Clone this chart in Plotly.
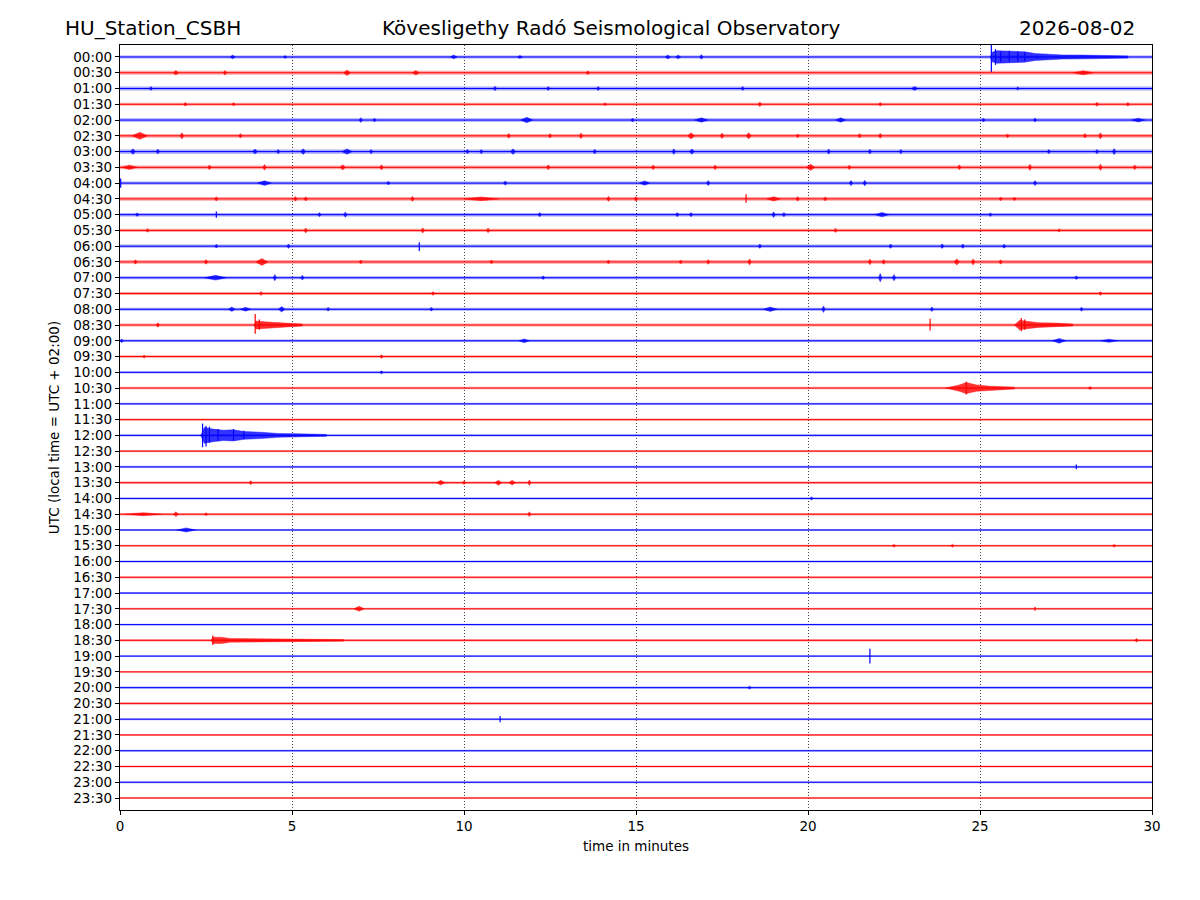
import plotly.graph_objects as go

# helicorder rows, 30 minutes each (UTC)
row_labels = [
    "00:00", "00:30", "01:00", "01:30", "02:00", "02:30", "03:00", "03:30",
    "04:00", "04:30", "05:00", "05:30", "06:00", "06:30", "07:00", "07:30",
    "08:00", "08:30", "09:00", "09:30", "10:00", "10:30", "11:00", "11:30",
    "12:00", "12:30", "13:00", "13:30", "14:00", "14:30", "15:00", "15:30",
    "16:00", "16:30", "17:00", "17:30", "18:00", "18:30", "19:00", "19:30",
    "20:00", "20:30", "21:00", "21:30", "22:00", "22:30", "23:00", "23:30",
]
x_ticks = [0, 5, 10, 15, 20, 25, 30]

# background noise half-width of each row (in row spacings)
row_noise = [
    0.10, 0.12, 0.12, 0.10, 0.11, 0.12, 0.13, 0.12, 0.10, 0.12, 0.11, 0.10,
    0.10, 0.12, 0.10, 0.09, 0.10, 0.09, 0.08, 0.08, 0.07, 0.08, 0.07, 0.07,
    0.07, 0.07, 0.07, 0.08, 0.06, 0.08, 0.07, 0.07, 0.07, 0.07, 0.06, 0.06,
    0.06, 0.08, 0.06, 0.06, 0.07, 0.08, 0.06, 0.06, 0.06, 0.07, 0.06, 0.06,
]

# small blips: (row, start minute, end minute, half amplitude)
blips = [
    (0, 3.2, 3.35, 0.12), (0, 4.75, 4.85, 0.1), (0, 9.6, 9.8, 0.12), (0, 11.55, 11.7, 0.1),
    (0, 15.85, 16.0, 0.13), (0, 16.15, 16.3, 0.12), (0, 16.85, 16.95, 0.15),
    (1, 1.55, 1.7, 0.15), (1, 3.0, 3.1, 0.15), (1, 6.5, 6.7, 0.18), (1, 8.5, 8.7, 0.14),
    (1, 13.55, 13.65, 0.12), (1, 27.7, 28.3, 0.13),
    (2, 0.85, 0.95, 0.12), (2, 10.85, 10.95, 0.14), (2, 12.4, 12.5, 0.12), (2, 13.85, 13.95, 0.12),
    (2, 18.05, 18.15, 0.13), (2, 23.0, 23.2, 0.12), (2, 26.05, 26.15, 0.1),
    (3, 1.85, 1.95, 0.12), (3, 3.25, 3.35, 0.1), (3, 14.05, 14.15, 0.1), (3, 18.55, 18.65, 0.15),
    (3, 22.05, 22.15, 0.12), (3, 28.35, 28.45, 0.13), (3, 29.25, 29.35, 0.12),
    (4, 6.95, 7.05, 0.15), (4, 7.35, 7.45, 0.12), (4, 11.65, 12.0, 0.17), (4, 14.85, 14.95, 0.12),
    (4, 16.7, 17.1, 0.14), (4, 20.8, 21.1, 0.14), (4, 25.05, 25.15, 0.12), (4, 26.55, 26.65, 0.13),
    (4, 29.4, 29.8, 0.12),
    (5, 0.35, 0.8, 0.22), (5, 1.75, 1.85, 0.2), (5, 3.45, 3.55, 0.14), (5, 11.25, 11.35, 0.15),
    (5, 12.45, 12.55, 0.14), (5, 13.35, 13.45, 0.18), (5, 16.5, 16.7, 0.2), (5, 17.45, 17.55, 0.18),
    (5, 18.2, 18.35, 0.2), (5, 19.65, 19.75, 0.12), (5, 21.45, 21.55, 0.14), (5, 22.05, 22.15, 0.16),
    (5, 25.75, 25.85, 0.12), (5, 28.0, 28.1, 0.14), (5, 28.45, 28.55, 0.2),
    (6, 0.3, 0.45, 0.18), (6, 1.05, 1.15, 0.16), (6, 3.85, 4.0, 0.16), (6, 4.55, 4.65, 0.14),
    (6, 5.25, 5.4, 0.18), (6, 6.45, 6.75, 0.17), (6, 7.25, 7.35, 0.14), (6, 10.05, 10.15, 0.14),
    (6, 10.45, 10.55, 0.14), (6, 11.35, 11.5, 0.18), (6, 13.75, 13.85, 0.15), (6, 16.05, 16.15, 0.18),
    (6, 16.55, 16.7, 0.17), (6, 20.55, 20.65, 0.17), (6, 21.75, 21.85, 0.15), (6, 22.65, 22.75, 0.14),
    (6, 26.95, 27.05, 0.13), (6, 28.35, 28.45, 0.14), (6, 28.85, 28.95, 0.2),
    (7, 0.05, 0.5, 0.14), (7, 2.55, 2.65, 0.15), (7, 4.15, 4.25, 0.18), (7, 6.4, 6.55, 0.17),
    (7, 7.55, 7.65, 0.17), (7, 12.4, 12.5, 0.16), (7, 15.45, 15.55, 0.15), (7, 17.25, 17.35, 0.15),
    (7, 19.95, 20.2, 0.2), (7, 21.15, 21.25, 0.14), (7, 24.35, 24.45, 0.16), (7, 26.4, 26.5, 0.2),
    (7, 28.45, 28.55, 0.2), (7, 29.45, 29.55, 0.15),
    (8, 4.0, 4.4, 0.15), (8, 7.75, 7.85, 0.12), (8, 11.15, 11.25, 0.14), (8, 15.1, 15.4, 0.14),
    (8, 17.05, 17.15, 0.16), (8, 21.2, 21.3, 0.17), (8, 21.6, 21.7, 0.18), (8, 26.55, 26.65, 0.16),
    (9, 2.75, 2.85, 0.14), (9, 5.05, 5.15, 0.15), (9, 5.35, 5.45, 0.14), (9, 8.45, 8.55, 0.16),
    (9, 10.0, 11.0, 0.12), (9, 14.15, 14.25, 0.16), (9, 14.95, 15.05, 0.15), (9, 18.8, 19.2, 0.14),
    (9, 19.65, 19.75, 0.15), (9, 20.45, 20.55, 0.13), (9, 25.55, 25.65, 0.12), (9, 25.95, 26.05, 0.12),
    (10, 0.45, 0.55, 0.12), (10, 5.75, 5.85, 0.13), (10, 6.5, 6.6, 0.17), (10, 12.15, 12.25, 0.14),
    (10, 16.15, 16.25, 0.14), (10, 16.55, 16.65, 0.14), (10, 18.95, 19.05, 0.18), (10, 19.25, 19.35, 0.14),
    (10, 21.95, 22.35, 0.14), (10, 25.25, 25.35, 0.12),
    (11, 0.75, 0.85, 0.12), (11, 5.35, 5.45, 0.16), (11, 8.75, 8.85, 0.17), (11, 10.65, 10.75, 0.15),
    (11, 20.75, 20.85, 0.14), (11, 27.25, 27.35, 0.1),
    (12, 2.75, 2.85, 0.12), (12, 4.85, 4.95, 0.14), (12, 18.55, 18.65, 0.14), (12, 22.35, 22.45, 0.14),
    (12, 23.85, 23.95, 0.15), (12, 24.45, 24.55, 0.14), (12, 25.65, 25.75, 0.13),
    (13, 0.4, 0.5, 0.14), (13, 2.45, 2.55, 0.15), (13, 3.95, 4.3, 0.22), (13, 6.95, 7.05, 0.12),
    (13, 10.75, 10.85, 0.12), (13, 14.15, 14.25, 0.12), (13, 16.25, 16.35, 0.12), (13, 17.05, 17.15, 0.15),
    (13, 18.25, 18.35, 0.2), (13, 21.75, 21.85, 0.18), (13, 22.15, 22.25, 0.15), (13, 24.25, 24.4, 0.2),
    (13, 24.75, 24.85, 0.2), (13, 25.55, 25.65, 0.14),
    (14, 2.45, 3.1, 0.15), (14, 4.45, 4.55, 0.2), (14, 5.25, 5.35, 0.15), (14, 12.25, 12.35, 0.12),
    (14, 22.05, 22.15, 0.27), (14, 22.45, 22.55, 0.2), (14, 27.75, 27.85, 0.12),
    (15, 4.05, 4.15, 0.12), (15, 9.05, 9.15, 0.12), (15, 28.45, 28.55, 0.12),
    (16, 3.15, 3.35, 0.14), (16, 3.5, 3.8, 0.12), (16, 4.6, 4.8, 0.17), (16, 6.0, 6.1, 0.12),
    (16, 9.0, 9.1, 0.12), (16, 18.7, 19.1, 0.14), (16, 20.4, 20.5, 0.2), (16, 23.55, 23.65, 0.15),
    (16, 27.9, 28.0, 0.13),
    (17, 1.05, 1.15, 0.14),
    (18, 0.0, 0.1, 0.12), (18, 11.6, 11.9, 0.12), (18, 27.1, 27.5, 0.15), (18, 28.5, 29.0, 0.1),
    (19, 0.65, 0.75, 0.1), (19, 7.55, 7.65, 0.12),
    (20, 7.55, 7.65, 0.1),
    (21, 28.15, 28.25, 0.1),
    (27, 3.75, 3.85, 0.13), (27, 9.2, 9.45, 0.15), (27, 9.95, 10.05, 0.12), (27, 10.9, 11.1, 0.16),
    (27, 11.3, 11.5, 0.15), (27, 11.85, 11.95, 0.17),
    (28, 20.05, 20.15, 0.1),
    (29, 0.15, 1.2, 0.1), (29, 1.55, 1.7, 0.15), (29, 2.45, 2.55, 0.1), (29, 11.85, 11.95, 0.15),
    (30, 1.65, 2.2, 0.13),
    (31, 22.45, 22.55, 0.1), (31, 24.15, 24.25, 0.1), (31, 28.85, 28.95, 0.1),
    (35, 6.8, 7.1, 0.16),
    (37, 29.5, 29.6, 0.12),
    (40, 18.25, 18.35, 0.1),
]

# earthquake codas: (row, minutes, half amplitude envelope)
quake_rows = [0, 17, 17, 21, 24, 37]
quake_minutes = [
    [25.3, 25.35, 25.5, 25.9, 26.3, 26.6, 27.0, 27.4, 28.0, 28.8, 29.3],
    [3.9, 3.95, 4.2, 4.5, 5.0, 5.3],
    [26.0, 26.15, 26.3, 26.7, 27.2, 27.7],
    [24.0, 24.4, 24.6, 24.9, 25.3, 26.0],
    [2.35, 2.45, 2.7, 3.0, 3.3, 3.6, 4.1, 4.6, 5.2, 6.0],
    [2.65, 2.7, 2.95, 3.2, 4.0, 5.0, 5.7, 6.5],
]
quake_amps = [
    [0.0, 0.3, 0.4, 0.35, 0.33, 0.22, 0.18, 0.13, 0.12, 0.1, 0.07],
    [0.0, 0.25, 0.2, 0.15, 0.1, 0.06],
    [0.0, 0.3, 0.25, 0.15, 0.12, 0.06],
    [0.0, 0.2, 0.35, 0.2, 0.12, 0.06],
    [0.0, 0.5, 0.4, 0.33, 0.35, 0.25, 0.2, 0.12, 0.1, 0.06],
    [0.0, 0.2, 0.2, 0.12, 0.1, 0.09, 0.07, 0.05],
]

# sharp peaks: (row, minute, swing up, swing down)
spikes = [
    (0, 25.33, 0.8, 0.95), (0, 25.45, 0.5, 0.5), (0, 25.6, 0.35, 0.3), (0, 25.85, 0.4, 0.3),
    (0, 26.1, 0.35, 0.3), (0, 26.3, 0.3, 0.25),
    (8, 0.02, 0.3, 0.3), (9, 18.2, 0.3, 0.25), (10, 2.8, 0.2, 0.2), (12, 8.7, 0.25, 0.3),
    (17, 3.93, 0.7, 0.55), (17, 4.05, 0.35, 0.3), (17, 23.55, 0.4, 0.35),
    (17, 26.2, 0.45, 0.4), (17, 26.3, 0.35, 0.3),
    (21, 24.6, 0.4, 0.4),
    (24, 2.4, 0.75, 0.75), (24, 2.5, 0.6, 0.7), (24, 2.6, 0.55, 0.45), (24, 2.85, 0.4, 0.35),
    (24, 3.3, 0.4, 0.3), (24, 3.6, 0.3, 0.25),
    (26, 27.8, 0.15, 0.15), (35, 26.6, 0.12, 0.12), (37, 2.7, 0.3, 0.3),
    (38, 21.8, 0.47, 0.47), (42, 11.05, 0.2, 0.2),
]

colors = ["#0000ff", "#ff0000"]
fades = ["rgba(0,0,255,0.35)", "rgba(255,0,0,0.35)"]
solids = ["rgba(0,0,255,0.8)", "rgba(255,0,0,0.8)"]
offsets = [-i for i in range(len(row_labels))]

fig = go.Figure()

for c in range(2):
    rows = [i for i in range(len(row_labels)) if i % 2 == c]

    # noise band around each baseline
    bx, by = [], []
    for i in rows:
        y0 = offsets[i]
        n = row_noise[i]
        bx += [0, 30, 30, 0, 0, None]
        by += [y0 - n, y0 - n, y0 + n, y0 + n, y0 - n, None]
    fig.add_trace(go.Scatter(x=bx, y=by, mode="lines", fill="toself",
                             fillcolor=fades[c], line=dict(width=0), hoverinfo="skip"))

    # baseline of each row
    lx, ly = [], []
    for i in rows:
        lx += [0, 30, None]
        ly += [offsets[i], offsets[i], None]
    fig.add_trace(go.Scatter(x=lx, y=ly, mode="lines",
                             line=dict(color=colors[c], width=1), hoverinfo="skip"))

    # blips as small diamonds
    ex, ey = [], []
    for r, t0, t1, a in blips:
        if r % 2 != c:
            continue
        y0 = offsets[r]
        tm = (t0 + t1) / 2
        ex += [t0, tm, t1, tm, t0, None]
        ey += [y0, y0 + a, y0, y0 - a, y0, None]
    # quake envelopes
    for r, ts, amps in zip(quake_rows, quake_minutes, quake_amps):
        if r % 2 != c:
            continue
        y0 = offsets[r]
        ex += ts + ts[::-1] + [ts[0], None]
        ey += [y0 + a for a in amps] + [y0 - a for a in amps[::-1]] + [y0 + amps[0], None]
    fig.add_trace(go.Scatter(x=ex, y=ey, mode="lines", fill="toself",
                             fillcolor=solids[c], line=dict(color=solids[c], width=0.5),
                             hoverinfo="skip"))

    # spikes
    sx, sy = [], []
    for r, t, up, down in spikes:
        if r % 2 != c:
            continue
        sx += [t, t, None]
        sy += [offsets[r] + up, offsets[r] - down, None]
    fig.add_trace(go.Scatter(x=sx, y=sy, mode="lines",
                             line=dict(color=colors[c], width=1.2), hoverinfo="skip"))

font = "DejaVu Sans"
fig.update_layout(
    width=1200,
    height=900,
    showlegend=False,
    plot_bgcolor="white",
    paper_bgcolor="white",
    margin=dict(l=112, r=56, t=37, b=98),
    font=dict(family=font, size=13.5, color="black"),
    xaxis=dict(
        range=[0, 30],
        tickvals=x_ticks,
        ticks="outside",
        ticklen=4,
        tickcolor="black",
        showline=True,
        mirror=True,
        linecolor="black",
        linewidth=1.2,
        showgrid=True,
        gridcolor="#444444",
        griddash="1px,2px",
        gridwidth=0.7,
        zeroline=False,
        title=dict(text="time in minutes", standoff=8, font=dict(size=13.5)),
    ),
    yaxis=dict(
        range=[-47.76, 0.76],
        tickvals=offsets,
        ticktext=row_labels,
        ticks="outside",
        ticklen=4,
        tickcolor="black",
        showline=True,
        mirror=True,
        linecolor="black",
        linewidth=1.2,
        showgrid=False,
        zeroline=False,
        title=dict(text="UTC (local time = UTC + 02:00)", standoff=10, font=dict(size=13.5)),
    ),
    annotations=[
        dict(text="HU_Station_CSBH", xref="paper", yref="paper", x=-0.0552, y=1.022,
             xanchor="left", yanchor="middle", showarrow=False, font=dict(size=20)),
        dict(text="Kövesligethy Radó Seismological Observatory", xref="paper", yref="paper",
             x=0.4758, y=1.022, xanchor="center", yanchor="middle", showarrow=False,
             font=dict(size=20)),
        dict(text="2026-08-02", xref="paper", yref="paper", x=0.9855, y=1.022,
             xanchor="right", yanchor="middle", showarrow=False, font=dict(size=20)),
    ],
)

fig.write_html("out.html")
